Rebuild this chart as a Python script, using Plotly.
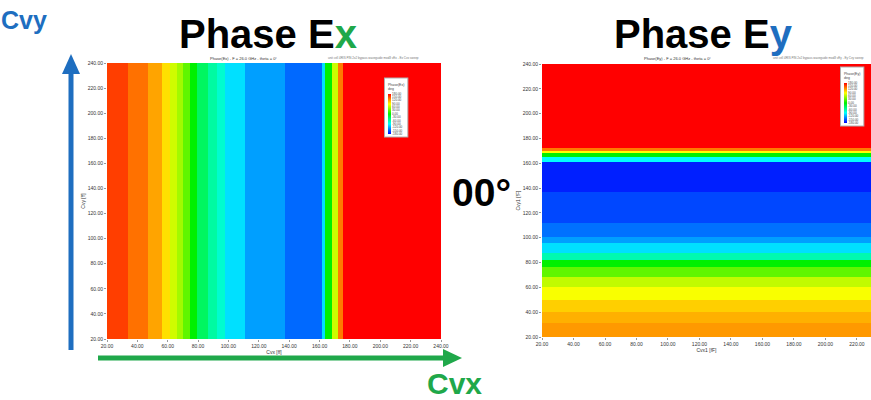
import plotly.graph_objects as go

W, H = 871, 400

# ---------------- data ----------------
# Left panel: Phase(Ex) vs Cvx (bands along x), edges in fF
ex_cvx_edges = [20, 33.8, 47.0, 56.2, 61.5, 66.1, 70.1, 74.7, 79.3, 86.5, 92.5,
                97.7, 110.9, 137.2, 161.6, 163.6, 168.2, 172.2, 175.5, 240]
ex_phase_deg = [158, 140, 122, 101, 73, 57, 34, 0, -34, -57, -73,
                -101, -124, -143, -101, 0, 72, 137, 180]

# Right panel: Phase(Ey) vs Cvy (bands along y), edges in fF
ey_cvy_edges = [20, 31.3, 40.2, 49.8, 60.3, 68.4, 76.4, 82.1, 87.7, 95.8, 100.6,
                111.9, 136.9, 161.0, 165.1, 168.3, 169.9, 172.3, 240]
ey_phase_deg = [126, 118, 107, 88, 68, 34, 0, -62, -101, -124, -140,
                -155, -169, -90, 0, 90, 137, 180]

axis_ticks = [20, 40, 60, 80, 100, 120, 140, 160, 180, 200, 220, 240]
legend_ticks = [180, 150, 120, 90, 60, 30, 0, -30, -60, -90, -120, -150, -180]

rainbow = [[0.0, '#0000FF'], [0.25, '#00FFFF'], [0.5, '#00F000'],
           [0.75, '#FFFF00'], [1.0, '#FF0000']]

BLUE = '#1E6EC0'
GREEN = '#1FA84A'
FONT = 'Liberation Sans, Arial, sans-serif'


def px_x(p):
    return p / W


def px_y(p):
    return 1 - p / H


def colorbar(x_left, y_top, title):
    return dict(
        x=px_x(x_left), xanchor='left', y=px_y(y_top), yanchor='top',
        len=58, lenmode='pixels', thickness=3, thicknessmode='pixels',
        bgcolor='white', bordercolor='#B0B0B0', borderwidth=1, outlinewidth=0,
        xpad=3, ypad=2,
        tickvals=legend_ticks, ticktext=[f'{v:.2f}' for v in legend_ticks],
        tickfont=dict(size=3, color='#444', family=FONT), ticks='', ticklen=0,
        title=dict(text=title, side='top', font=dict(size=3.5, color='#444', family=FONT)),
    )


fig = go.Figure()
fig.add_trace(go.Heatmap(
    x=ex_cvx_edges, y=[20, 240], z=[ex_phase_deg],
    colorscale=rainbow, zmin=-180, zmax=180,
    colorbar=colorbar(385, 78, 'Phase(Ex)<br>deg'),
    xaxis='x', yaxis='y', hoverinfo='skip'))
fig.add_trace(go.Heatmap(
    x=[20, 240], y=ey_cvy_edges, z=[[v] for v in ey_phase_deg],
    colorscale=rainbow, zmin=-180, zmax=180,
    colorbar=colorbar(841, 67, 'Phase(Ey)<br>deg'),
    xaxis='x2', yaxis='y2', hoverinfo='skip'))

tickfont = dict(size=5, color='#333', family=FONT)
axis_common = dict(
    tickvals=axis_ticks, ticktext=[f'{v:.2f}' for v in axis_ticks],
    tickfont=tickfont, ticks='outside', ticklen=2, tickcolor='#999',
    showgrid=False, zeroline=False, showline=False, automargin=False,
)

fig.update_layout(
    width=W, height=H,
    margin=dict(l=0, r=0, t=0, b=0, autoexpand=False),
    paper_bgcolor='white', plot_bgcolor='white',
    font=dict(family=FONT),
    xaxis=dict(domain=[px_x(107), px_x(441)], range=[20, 240], anchor='y',
               title=dict(text='Cvx [ff]', font=tickfont, standoff=1), **axis_common),
    yaxis=dict(domain=[px_y(339), px_y(63)], range=[20, 240], anchor='x',
               title=dict(text='Cvy [ff]', font=tickfont, standoff=1), **axis_common),
    xaxis2=dict(domain=[px_x(542), 1.0], range=[20, 228.9], anchor='y2',
                title=dict(text='Cvx1 [fF]', font=tickfont, standoff=1), **axis_common),
    yaxis2=dict(domain=[px_y(337), px_y(64)], range=[20, 240], anchor='x2',
                title=dict(text='Cvy1 [fF]', font=tickfont, standoff=1), **axis_common),
    showlegend=False,
)

# arrows (decorations)
shapes = [
    dict(type='line', xref='paper', yref='paper', x0=px_x(71), x1=px_x(71),
         y0=px_y(350), y1=px_y(72), line=dict(color=BLUE, width=5)),
    dict(type='path', xref='paper', yref='paper',
         path=f'M {px_x(71)} {px_y(54)} L {px_x(62)} {px_y(74)} L {px_x(80)} {px_y(74)} Z',
         fillcolor=BLUE, line=dict(color=BLUE, width=0)),
    dict(type='line', xref='paper', yref='paper', x0=px_x(98), x1=px_x(445),
         y0=px_y(358), y1=px_y(358), line=dict(color=GREEN, width=5)),
    dict(type='path', xref='paper', yref='paper',
         path=f'M {px_x(462)} {px_y(358)} L {px_x(443)} {px_y(349)} L {px_x(443)} {px_y(367)} Z',
         fillcolor=GREEN, line=dict(color=GREEN, width=0)),
]
fig.update_layout(shapes=shapes)

big = dict(family=FONT, color='black')
annotations = [
    dict(text='<b>Cvy</b>', x=px_x(24), y=px_y(20), font=dict(family=FONT, size=25, color=BLUE)),
    dict(text=f'<b>Phase E<span style="color:{GREEN}">x</span></b>', x=px_x(268), y=px_y(34),
         font=dict(big, size=40)),
    dict(text=f'<b>Phase E<span style="color:{BLUE}">y</span></b>', x=px_x(703), y=px_y(34),
         font=dict(big, size=40)),
    dict(text='<b>00°</b>', x=px_x(481), y=px_y(192), font=dict(big, size=39)),
    dict(text='<b>Cvx</b>', x=px_x(455), y=px_y(383), font=dict(family=FONT, size=30, color=GREEN)),
    dict(text='Phase(Ex) - F = 26.0 GHz - theta = 0°', x=px_x(243), y=px_y(58),
         font=dict(family=FONT, size=4, color='#333')),
    dict(text='Phase(Ey) - F = 26.0 GHz - theta = 0°', x=px_x(677), y=px_y(58),
         font=dict(family=FONT, size=4, color='#333')),
    dict(text='unit cell 4RIS PIN 2x2 bypass waveguide mod3 vEx - Ex Cvx sweep', x=px_x(373), y=px_y(58),
         font=dict(family=FONT, size=3, color='#777')),
    dict(text='unit cell 4RIS PIN 2x2 bypass waveguide mod3 vEy - Ey Cvy sweep', x=px_x(818), y=px_y(58),
         font=dict(family=FONT, size=3, color='#777')),
]
for a in annotations:
    a.update(xref='paper', yref='paper', showarrow=False, xanchor='center', yanchor='middle')
fig.update_layout(annotations=annotations)

fig.write_html('out.html', config={'displayModeBar': False},
               post_script="document.body.style.margin='0px';")
